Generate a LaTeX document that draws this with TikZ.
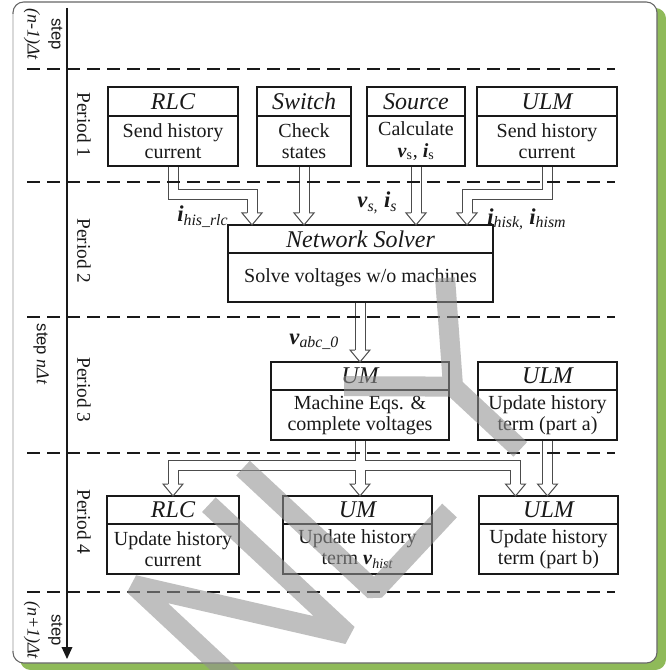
\documentclass[tikz,border=0pt]{standalone}
\usepackage{fontspec}
\setmainfont{Liberation Serif}
\setsansfont{Liberation Sans}
\usetikzlibrary{calc,fit,arrows.meta}
\pgfdeclarelayer{bg}
\pgfdeclarelayer{pipes}
\pgfdeclarelayer{wm}
\pgfsetlayers{bg,pipes,main,wm}

\definecolor{framegreen}{RGB}{143,186,89}
\definecolor{ink}{RGB}{25,25,25}

% bold italic quantity with italic / upright subscript
\newcommand\bvar[2]{\textbf{\textit{#1}}\textsubscript{\textit{#2}}}
\newcommand\bvarr[2]{\textbf{\textit{#1}}\textsubscript{#2}}

\tikzset{
  frameline/.style={draw=black!60, line width=0.8pt, rounded corners=8pt},
  sepline/.style={draw=ink, line width=1pt, dash pattern=on 9.4pt off 5.6pt},
  timeaxis/.style={draw=ink, line width=1pt, -{Triangle[length=9pt,width=8pt]}},
  box/.style={draw=ink, line width=1pt, inner sep=0pt, outer sep=0pt},
  headtxt/.style={font=\fontsize{18}{18}\selectfont\itshape, inner sep=0pt, text=ink},
  bodytxt/.style={font=\fontsize{15}{16}\selectfont, align=center, inner sep=0pt, text=ink},
  period/.style={font=\fontsize{14.5}{15}\selectfont, rotate=-90, inner sep=0pt, text=ink},
  steplab/.style={rotate=-90, align=center, inner sep=0pt, text=ink,
                  font=\fontsize{13.5}{14.5}\selectfont},
  pipeout/.style={draw=black!70, line width=8.25pt, line join=miter},
  pipein/.style={draw=white, line width=6.75pt, line join=miter},
  tiphead/.style={draw=black!70, line width=0.75pt, line join=miter},
  lab/.style={font=\fontsize{17}{17}\selectfont, inner sep=0pt, anchor=base west, text=ink},
  wmark/.style={draw=black!43, draw opacity=0.58, line width=15pt, line join=bevel},
}

% box with an italic title row and a body row
\newcommand\ubox[8]{%
  \node[box, fit={(#2,#3) (#4,#5)}] (#1) {};
  \draw[box] (#2,#6) -- (#4,#6);
  \node[headtxt] (#1-h) at ($(#2,#3)!0.5!(#4,#6)$) {#7};
  \node[bodytxt] (#1-b) at ($(#2,#6)!0.5!(#4,#5)$) {#8};
}

% open arrow head of a hollow pipe, tip at #1
\newcommand\openhead[1]{%
  \fill[white] ($(#1)+(-10,-12)$) -- (#1) -- ($(#1)+(10,-12)$) -- cycle;
  \draw[tiphead] ($(#1)+(-5,-12)$) -- ($(#1)+(-10,-12)$) -- (#1)
     -- ($(#1)+(10,-12)$) -- ($(#1)+(5,-12)$);
}

% all hollow pipes, drawn once as outline and once as white core
\newcommand\pipepaths[1]{%
  \draw[#1] (rlc1.south) -- ++(0,29) -| ($(t1)+(0,-12)$);
  \draw[#1] (sw1.south) -- ($(t2)+(0,-12)$);
  \draw[#1] (src1.south) -- ($(t3)+(0,-12)$);
  \draw[#1] (ulm1.south) -- ++(0,29) -| ($(t4)+(0,-12)$);
  \draw[#1] (ns.south -| t5) -- ($(t5)+(0,-12)$);
  \draw[#1] (um3.south) -- ++(0,25) -| ($(t6)+(0,-12)$);
  \draw[#1] (um3.south) -- ($(t7)+(0,-12)$);
  \draw[#1] (um3.south) -- ++(0,25) -| ($(t8)+(0,-12)$);
  \draw[#1] (ulm3.south) -- ($(t9)+(0,-12)$);
}

\begin{document}
\begin{tikzpicture}[x=0.75pt, y=-0.75pt]
\useasboundingbox (0,0) rectangle (666,670);

\begin{pgfonlayer}{bg}
  \fill[white] (0,0) rectangle (666,670);
  \fill[framegreen, rounded corners=8pt] (20,8) rectangle (666,670);
  \fill[white, rounded corners=8pt] (13,2) rectangle (657,663);
  \draw[frameline] (13,2) rectangle (657,663);
  \draw[black!15, line width=1.2pt] (13,14) -- (13,651);
\end{pgfonlayer}

% period separators
\foreach \yy/\nm in {69/d0,182/d1,317/d2,453/d3,592/d4}
  \draw[sepline] (27,\yy) coordinate (\nm-l) -- (615,\yy) coordinate (\nm-r);

% time axis
\coordinate (axtop) at (67,8);
\coordinate (axbot) at (67,659);
\draw[timeaxis] (axtop) -- (axbot);

% step labels
\node[steplab] (st0) at (43,34)
  {{\fontsize{12.5}{14}\sffamily step}\\[3.5pt]{\itshape (n-1)Δt}};
\node[steplab] (st1) at (41,354)
  {{\fontsize{12.5}{14}\sffamily step} {\itshape nΔt}};
\node[steplab] (st2) at (43,630)
  {{\fontsize{12.5}{14}\sffamily step}\\[3.5pt]{\itshape (n+1)Δt}};

% period labels
\node[period] (p1) at (84,125) {Period 1};
\node[period] (p2) at (84,251) {Period 2};
\node[period] (p3) at (84,390) {Period 3};
\node[period] (p4) at (84,522) {Period 4};

% blocks
\ubox{rlc1}{108}{87}{238}{166}{116}{RLC}{Send history\\current}
\ubox{sw1}{257}{87}{351}{166}{116}{Switch}{Check\\states}
\ubox{src1}{367}{87}{465}{166}{116}{Source}{Calculate\\\bvarr{v}{s}, \bvarr{i}{s}}
\ubox{ulm1}{477}{87}{617}{166}{116}{ULM}{Send history\\current}
\ubox{ns}{228}{225}{493}{302}{253}{Network Solver}{Solve voltages w/o machines}
\ubox{um3}{271}{362}{449}{440}{390}{UM}{Machine Eqs. \&\\complete voltages}
\ubox{ulm3}{478}{362}{617}{440}{390}{ULM}{Update history\\term (part a)}
\ubox{rlc4}{107}{496}{239}{574}{524}{RLC}{Update history\\current}
\ubox{um4}{283}{496}{432}{574}{524}{UM}{Update history\\term \bvar{v}{hist}}
\ubox{ulm4}{479}{496}{618}{574}{524}{ULM}{Update history\\term (part b)}

% arrow tips
\coordinate (t1) at ($(ns.north west)+(24,0)$);
\coordinate (t2) at (sw1.south |- ns.north);
\coordinate (t3) at (src1.south |- ns.north);
\coordinate (t4) at ($(ns.north east)+(-26,0)$);
\coordinate (t5) at (um3.north);
\coordinate (t6) at (rlc4.north);
\coordinate (t7) at (um3.south |- um4.north);
\coordinate (t8) at ($(ulm4.north)+(-33,0)$);
\coordinate (t9) at (ulm3.south |- ulm4.north);

\begin{pgfonlayer}{pipes}
  \pipepaths{pipeout}
  \pipepaths{pipein}
\end{pgfonlayer}
\foreach \t in {t1,t2,t3,t4,t5,t6,t7,t8,t9} {\openhead{\t}}

% transferred quantities
\node[lab] (lrlc) at (177,222) {\bvar{i}{his\_rlc}};
\node[lab] (lsrc) at (357,208) {\bvar{v}{s,} \bvar{i}{s}};
\node[lab] (lulm) at (487,224) {\bvar{i}{hisk,} \bvar{i}{hism}};
\node[lab] (labc) at (289,344) {\bvar{v}{abc\_0}};

% translucent diagonal lettering across the sheet
\begin{pgfonlayer}{wm}
\begin{scope}[shift={(375,605)}, x={(0.5115pt,0.548pt)}, y={(-0.548pt,0.5115pt)}]
  \draw[wmark]
    (-150,0) -- (-150,190) -- (-40,0) -- (-40,190)
    (10,190) -- (10,10) -- (120,10)
    (213,0) -- (213,92) -- (139,172)
    (213,92) -- (287,172);
\end{scope}
\end{pgfonlayer}

\end{tikzpicture}
\end{document}
